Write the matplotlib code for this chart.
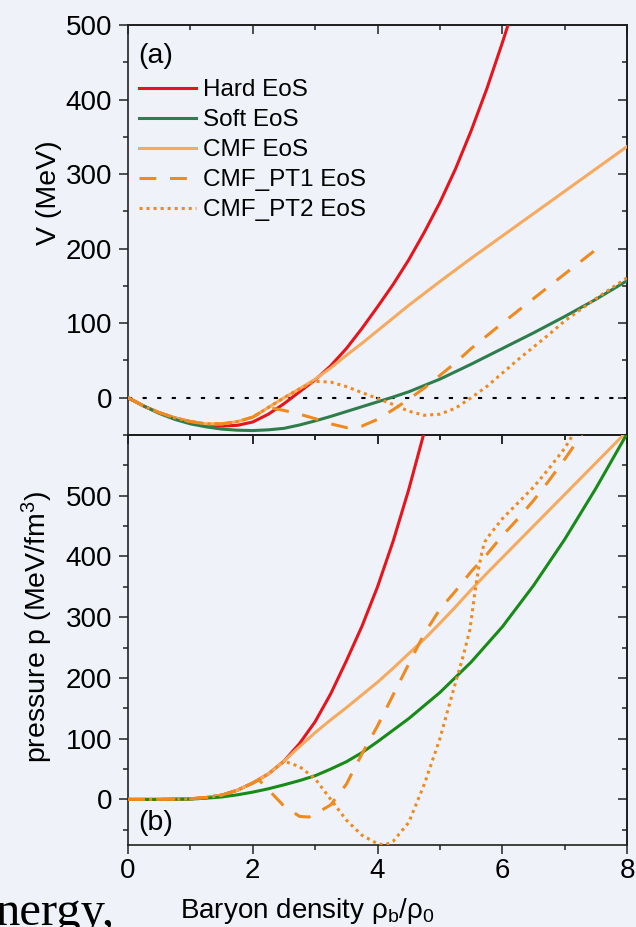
import matplotlib
matplotlib.use('Agg')
import matplotlib.pyplot as plt
from matplotlib.ticker import FixedLocator, NullFormatter

plt.rcParams['font.family'] = ['Liberation Sans', 'DejaVu Sans']
plt.rcParams['mathtext.fontset'] = 'custom'
plt.rcParams['mathtext.rm'] = 'Liberation Sans'
plt.rcParams['mathtext.it'] = 'Liberation Sans:italic'

# ---- panel (a): potential V (MeV) vs density ----
rho_hard_v = [0, 0.25, 0.5, 0.75, 1.0, 1.25, 1.5, 1.75, 2.0, 2.25, 2.5, 2.75, 3.0, 3.25,
              3.5, 3.75, 4.0, 4.25, 4.5, 4.75, 5.0, 5.25, 5.5, 5.75, 6.0, 6.1]
v_hard = [0, -11, -20, -27, -32, -36, -38, -37, -32.5, -22, -8, 8, 24, 43,
          66, 93, 122, 152, 185, 222, 262, 307, 358, 414, 476, 502]

rho_soft_v = [0, 0.25, 0.5, 0.75, 1.0, 1.25, 1.5, 1.75, 2.0, 2.25, 2.5, 2.75, 3.0, 3.25,
              3.5, 3.75, 4.0, 4.25, 4.5, 5.0, 5.5, 6.0, 6.5, 7.0, 7.5, 8.0]
v_soft = [0, -11, -21, -29, -35, -39, -42, -43.5, -44, -43, -41, -36.5, -31, -25,
          -18.5, -12, -5.5, 1, 8, 25, 45, 66, 87, 109, 132, 157]

rho_cmf_v = [0, 0.25, 0.5, 0.75, 1.0, 1.25, 1.5, 1.75, 2.0, 2.25, 2.5, 2.75, 3.0, 3.25,
             3.5, 3.75, 4.0, 4.25, 4.5, 5.0, 5.5, 6.0, 6.5, 7.0, 7.5, 8.0]
v_cmf = [0, -11, -20, -27, -32, -35, -35, -32, -26, -13, 0, 12, 25, 40,
         57, 73, 90, 107, 124, 156, 187, 217, 247, 277, 307, 337]

rho_pt1_v = [0, 0.25, 0.5, 0.75, 1.0, 1.25, 1.5, 1.75, 2.0, 2.25, 2.5, 2.75, 3.0, 3.25,
             3.5, 3.75, 4.0, 4.25, 4.5, 4.75, 5.0, 5.25, 5.5, 5.75, 6.0, 6.5, 7.0, 7.55]
v_pt1 = [0, -11, -20, -27, -32, -35, -35, -32, -26, -13, -17, -22, -28, -35,
         -40, -38, -29, -16, -2, 13, 30, 47, 66, 83, 100, 133, 166, 202]

rho_pt2_v = [0, 0.25, 0.5, 0.75, 1.0, 1.25, 1.5, 1.75, 2.0, 2.25, 2.5, 2.75, 3.0, 3.25,
             3.5, 3.75, 4.0, 4.25, 4.5, 4.75, 5.0, 5.25, 5.5, 5.75, 6.0, 6.25, 6.5,
             6.75, 7.0, 7.5, 8.0]
v_pt2 = [0, -11, -20, -27, -32, -35, -35, -32, -26, -13, 0, 12, 22, 21,
         15, 7, -1, -9, -18, -23.5, -22, -14, 0, 15, 33, 51, 68,
         85, 103, 133, 161]

# ---- panel (b): pressure p (MeV/fm^3) vs density ----
rho_hard_p = [0, 0.25, 0.5, 0.75, 1.0, 1.25, 1.5, 1.75, 2.0, 2.25, 2.5, 2.75, 3.0, 3.25,
              3.5, 3.75, 4.0, 4.25, 4.5, 4.75]
p_hard = [0, 0, 0, 0.3, 1, 3, 7, 15, 27, 42, 63, 92, 128, 174,
          228, 285, 350, 425, 510, 605]

rho_soft_p = [0, 0.5, 1.0, 1.25, 1.5, 1.75, 2.0, 2.25, 2.5, 2.75, 3.0, 3.25, 3.5, 3.75,
              4.0, 4.5, 5.0, 5.5, 6.0, 6.5, 7.0, 7.5, 8.0]
p_soft = [0, 0, 0.5, 2, 4, 7.5, 12, 17.5, 24, 31, 39, 50, 62, 77,
          95, 133, 176, 226, 284, 352, 428, 512, 602]

rho_cmf_p = [0, 0.25, 0.5, 0.75, 1.0, 1.25, 1.5, 1.75, 2.0, 2.25, 2.5, 2.75, 3.0, 3.25,
             3.5, 3.75, 4.0, 4.25, 4.5, 4.75, 5.0, 5.25, 5.5, 5.75, 6.0, 6.5, 7.0, 7.5, 8.0]
p_cmf = [0, 0, 0, 0.3, 1, 3, 7, 15, 27, 42, 63, 87, 110, 131,
         151, 172, 193, 216, 240, 264, 290, 317, 345, 372, 398, 450, 502, 554, 606]

rho_pt1_p = [0, 0.25, 0.5, 0.75, 1.0, 1.25, 1.5, 1.75, 2.0, 2.1, 2.25, 2.5, 2.75, 2.9,
             3.0, 3.25, 3.5, 3.75, 4.0, 4.25, 4.5, 4.75, 5.0, 5.25, 5.5, 5.75, 6.0,
             6.25, 6.5, 6.75, 7.0, 7.25, 7.3]
p_pt1 = [0, 0, 0, 0.3, 1, 3, 7, 15, 27, 32, 16, -11, -28, -29,
         -24, -9, 25, 75, 121, 172, 223, 273, 313, 343, 375, 403, 434,
         462, 492, 525, 560, 597, 605]

rho_pt2_p = [0, 0.25, 0.5, 0.75, 1.0, 1.25, 1.5, 1.75, 2.0, 2.25, 2.5, 2.75, 3.0, 3.25,
             3.5, 3.75, 4.0, 4.12, 4.25, 4.5, 4.75, 4.89, 5.0, 5.11, 5.25, 5.37, 5.48,
             5.56, 5.62, 5.68, 5.72, 5.8, 6.0, 6.25, 6.5, 6.75, 7.0, 7.13]
p_pt2 = [0, 0, 0, 0.3, 1, 3, 7, 15, 27, 42, 63, 54, 34, 0,
         -34, -59, -73, -75, -69, -38, 25, 67, 100, 141, 192, 235, 279,
         340, 380, 410, 424, 436, 462, 488, 514, 545, 578, 600]

labels = ['Hard EoS', 'Soft EoS', 'CMF EoS', 'CMF_PT1 EoS', 'CMF_PT2 EoS']
x_ticks = [0, 2, 4, 6, 8]
x_minor = [1, 3, 5, 7]
y_ticks = [0, 100, 200, 300, 400, 500]

c_hard = '#e8141c'
c_soft_a = '#2f7d4d'
c_soft_b = '#178a17'
c_cmf = '#f7aa5e'
c_pt = '#f08a1e'
lw = 2.2
bg = '#eff3f9'

fig = plt.figure(figsize=(6.36, 9.27), dpi=100, facecolor=bg)
ax1 = fig.add_axes([0.2013, 0.5307, 0.7846, 0.4423])
ax2 = fig.add_axes([0.2013, 0.0885, 0.7846, 0.4423])


def draw(ax, data, soft_color):
    (xh, yh), (xs, ys), (xc, yc), (x1, y1), (x2, y2) = data
    ax.plot(xh, yh, color=c_hard, lw=lw, label=labels[0], zorder=3)
    ax.plot(xs, ys, color=soft_color, lw=lw, label=labels[1], zorder=5)
    ax.plot(xc, yc, color=c_cmf, lw=lw, label=labels[2], zorder=4)
    ax.plot(x1, y1, color=c_pt, lw=lw, ls=(0, (5.5, 4.5)), label=labels[3], zorder=6)
    ax.plot(x2, y2, color=c_pt, lw=lw, ls=(0, (1, 1.3)), label=labels[4], zorder=7)


def style(ax, ylim, minor_y, show_xlabels):
    ax.set_facecolor('none')
    ax.set_xlim(0, 8)
    ax.set_ylim(*ylim)
    ax.xaxis.set_major_locator(FixedLocator(x_ticks))
    ax.xaxis.set_minor_locator(FixedLocator(x_minor))
    ax.yaxis.set_major_locator(FixedLocator(y_ticks))
    ax.yaxis.set_minor_locator(FixedLocator(minor_y))
    for s in ax.spines.values():
        s.set_linewidth(1.2)
        s.set_color('#222222')
    ax.tick_params(which='both', direction='out', top=False, right=False,
                   width=1.1, color='#222222', labelsize=20)
    ax.tick_params(which='major', length=6.5)
    ax.tick_params(which='minor', length=3.5)
    ax.tick_params(axis='x', pad=3)
    ax.tick_params(axis='y', pad=5)
    if not show_xlabels:
        ax.tick_params(labelbottom=False)
    # mirrored ticks pointing inward on top and right
    sx = ax.secondary_xaxis('top')
    sx.xaxis.set_major_locator(FixedLocator(x_ticks))
    sx.xaxis.set_minor_locator(FixedLocator(x_minor))
    sx.xaxis.set_major_formatter(NullFormatter())
    sx.tick_params(which='both', direction='in', width=1.1, color='#222222')
    sx.tick_params(which='major', length=6.5)
    sx.tick_params(which='minor', length=3.5)
    sx.spines['top'].set_linewidth(1.2)
    sy = ax.secondary_yaxis('right')
    sy.yaxis.set_major_locator(FixedLocator(y_ticks))
    sy.yaxis.set_minor_locator(FixedLocator(minor_y))
    sy.yaxis.set_major_formatter(NullFormatter())
    sy.tick_params(which='both', direction='in', width=1.1, color='#222222')
    sy.tick_params(which='major', length=6.5)
    sy.tick_params(which='minor', length=3.5)
    sy.spines['right'].set_linewidth(1.2)


draw(ax1, [(rho_hard_v, v_hard), (rho_soft_v, v_soft), (rho_cmf_v, v_cmf),
           (rho_pt1_v, v_pt1), (rho_pt2_v, v_pt2)], c_soft_a)
ax1.axhline(0, color='black', lw=1.5, ls=(0, (2, 5)), zorder=2)
style(ax1, (-50, 500), [-50, 50, 150, 250, 350, 450], False)
ax1.set_ylabel('V (MeV)', fontsize=20.5)
ax1.yaxis.set_label_coords(-0.132, 0.59)
ax1.text(0.02, 0.925, '(a)', transform=ax1.transAxes, fontsize=20.5, va='center')
ax1.legend(loc='upper left', bbox_to_anchor=(0.022, 0.868), frameon=False,
           fontsize=17.5, handlelength=2.35, handletextpad=0.3,
           labelspacing=0.33, borderpad=0, borderaxespad=0)

draw(ax2, [(rho_hard_p, p_hard), (rho_soft_p, p_soft), (rho_cmf_p, p_cmf),
           (rho_pt1_p, p_pt1), (rho_pt2_p, p_pt2)], c_soft_b)
style(ax2, (-75, 600), [-50, 50, 150, 250, 350, 450, 550], True)
ax2.set_ylabel('pressure p (MeV/fm$^{\\mathregular{3}}$)', fontsize=20.5)
ax2.yaxis.set_label_coords(-0.146, 0.532)
ax2.set_xlabel('Baryon density ρ$_{\\mathregular{b}}$/ρ$_{\\mathregular{0}}$', fontsize=20)
ax2.xaxis.set_label_coords(0.359, -0.124)
ax2.text(0.02, 0.054, '(b)', transform=ax2.transAxes, fontsize=20.5, va='center')

# slide text cut off at the lower left
fig.text(-0.006, 0.0022, 'nergy,', family='Liberation Serif', fontsize=35,
         va='baseline', ha='left')

fig.savefig('out.png', dpi=100, facecolor=bg)
